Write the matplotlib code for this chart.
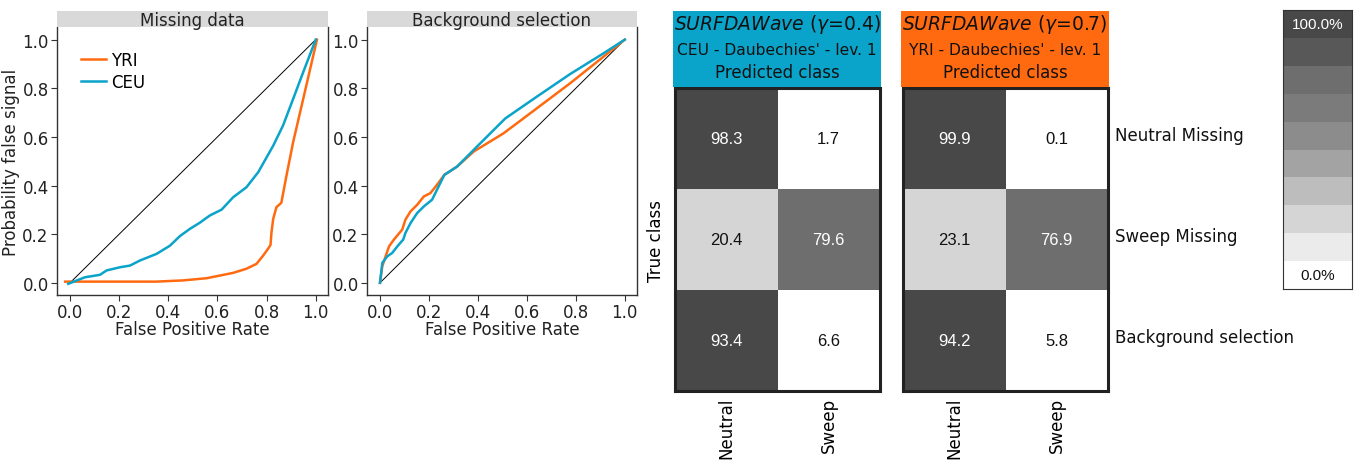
import matplotlib
matplotlib.use("Agg")
import matplotlib.pyplot as plt
from matplotlib.colors import ListedColormap, BoundaryNorm
import numpy as np

# ROC-like curves: missing data
miss_ceu_x = [-0.007, 0.061, 0.122, 0.149, 0.203, 0.244, 0.285, 0.352, 0.407, 0.447, 0.488,
              0.528, 0.569, 0.617, 0.664, 0.718, 0.766, 0.827, 0.867, 0.908, 0.949, 1.0]
miss_ceu_y = [-0.004, 0.023, 0.033, 0.051, 0.064, 0.071, 0.092, 0.119, 0.153, 0.192, 0.222,
              0.247, 0.277, 0.301, 0.352, 0.393, 0.455, 0.564, 0.647, 0.756, 0.866, 1.0]
miss_yri_x = [-0.02, 0.35, 0.46, 0.556, 0.61, 0.664, 0.718, 0.759, 0.786, 0.806, 0.816,
              0.82, 0.827, 0.84, 0.86, 0.881, 0.908, 0.949, 1.005]
miss_yri_y = [0.005, 0.005, 0.01, 0.019, 0.03, 0.041, 0.058, 0.078, 0.112, 0.14, 0.156,
              0.208, 0.263, 0.311, 0.329, 0.441, 0.578, 0.756, 1.0]

# background selection
bg_yri_x = [0.0, 0.0095, 0.023, 0.037, 0.057, 0.091, 0.104, 0.125, 0.152, 0.179, 0.206,
            0.233, 0.263, 0.315, 0.383, 0.505, 0.64, 0.776, 0.912, 1.0]
bg_yri_y = [0.0, 0.068, 0.109, 0.15, 0.178, 0.219, 0.26, 0.294, 0.321, 0.355, 0.369,
            0.403, 0.444, 0.478, 0.54, 0.615, 0.717, 0.82, 0.929, 1.0]
bg_ceu_x = [0.0, 0.0095, 0.03, 0.05, 0.071, 0.095, 0.104, 0.125, 0.152, 0.179, 0.213,
            0.233, 0.263, 0.315, 0.396, 0.512, 0.64, 0.776, 0.912, 1.0]
bg_ceu_y = [0.0, 0.082, 0.109, 0.123, 0.15, 0.178, 0.205, 0.246, 0.287, 0.314, 0.342,
            0.383, 0.444, 0.478, 0.56, 0.676, 0.765, 0.858, 0.943, 1.0]

# confusion matrices (percent)
pred_classes = ["Neutral", "Sweep"]
true_classes = ["Neutral Missing", "Sweep Missing", "Background selection"]
cm_ceu = [[98.3, 1.7], [20.4, 79.6], [93.4, 6.6]]
cm_yri = [[99.9, 0.1], [23.1, 76.9], [94.2, 5.8]]

ORANGE = "#ff6a10"
BLUE = "#0aa3c9"
greys = ["#ffffff", "#ebebeb", "#d5d5d5", "#bdbdbd", "#a3a3a3",
         "#8c8c8c", "#7b7b7b", "#6e6e6e", "#585858", "#484848"]
cmap = ListedColormap(greys)
norm = BoundaryNorm(np.linspace(0, 100, 11), cmap.N)

W, H = 1358, 464
fig = plt.figure(figsize=(W / 100, H / 100), dpi=100)


def px_axes(x0, y0, x1, y1):
    return fig.add_axes([x0 / W, 1 - y1 / H, (x1 - x0) / W, (y1 - y0) / H])


def roc_panel(x0, x1, title, curves, ylabel=None):
    ax = px_axes(x0, 28, x1, 296)
    ax.plot([0, 1], [0, 1], color="black", lw=0.7)
    for xs, ys, col, lab in curves:
        ax.plot(xs, ys, color=col, lw=1.8, label=lab)
    ax.set_xlim(-0.053, 1.05)
    ax.set_ylim(-0.05, 1.052)
    ticks = [0.0, 0.2, 0.4, 0.6, 0.8, 1.0]
    ax.set_xticks(ticks)
    ax.set_yticks(ticks)
    ax.set_xticklabels([f"{t:.1f}" for t in ticks])
    ax.set_yticklabels([f"{t:.1f}" for t in ticks])
    ax.tick_params(labelsize=12, length=4, width=0.8, color="#333333",
                   labelcolor="#222222", pad=2)
    ax.spines["top"].set_visible(False)
    for s in ["left", "bottom", "right"]:
        ax.spines[s].set_color("#333333")
        ax.spines[s].set_linewidth(1.0)
    ax.set_xlabel("False Positive Rate", fontsize=12, color="#222222", labelpad=-1)
    if ylabel:
        ax.set_ylabel(ylabel, fontsize=12, color="#222222", labelpad=2)
    strip = px_axes(x0, 12, x1, 28)
    strip.set_facecolor("#d9d9d9")
    strip.set_xticks([])
    strip.set_yticks([])
    for s in strip.spines.values():
        s.set_visible(False)
    strip.text(0.5, 0.45, title, ha="center", va="center", fontsize=12, color="#222222")
    return ax


ax1 = roc_panel(57, 328, "Missing data",
                [(miss_yri_x, miss_yri_y, ORANGE, "YRI"),
                 (miss_ceu_x, miss_ceu_y, BLUE, "CEU")],
                ylabel="Probability false signal")
ax1.legend(frameon=False, loc="upper left", bbox_to_anchor=(0.09, 0.91),
           borderaxespad=0, borderpad=0, fontsize=12, handlelength=1.5,
           handletextpad=0.3, labelspacing=0.25)

roc_panel(367, 637, "Background selection",
          [(bg_yri_x, bg_yri_y, ORANGE, "YRI"),
           (bg_ceu_x, bg_ceu_y, BLUE, "CEU")])


def conf_panel(x0, x1, cm, head_col, gamma, pop, row_labels=False, ylab=False):
    ax = px_axes(x0, 89, x1, 392)
    vals = np.array(cm)
    ax.pcolormesh(np.arange(3), np.arange(4), vals, cmap=cmap, norm=norm)
    ax.set_xlim(0, 2)
    ax.set_ylim(3, 0)
    for i in range(vals.shape[0]):
        for j in range(vals.shape[1]):
            v = vals[i, j]
            ax.text(j + 0.5, i + 0.5, f"{v:.1f}", ha="center", va="center",
                    fontsize=12, family="Liberation Sans",
                    color="white" if v >= 50 else "#111111")
    ax.set_xticks([0.5, 1.5])
    ax.set_xticklabels(pred_classes, rotation=90, fontsize=12, va="top")
    ax.tick_params(axis="x", length=0, pad=4)
    ax.set_yticks([])
    for s in ax.spines.values():
        s.set_linewidth(2.2)
        s.set_color("#222222")
    if ylab:
        ax.set_ylabel("True class", fontsize=12, labelpad=7)
    if row_labels:
        for i, lab in enumerate(true_classes):
            ax.text(2.07, i + 0.47, lab, ha="left", va="center", fontsize=12,
                    color="#111111")
    head = px_axes(x0 - 2, 12, x1 + 1, 88)
    head.set_facecolor(head_col)
    head.set_xticks([])
    head.set_yticks([])
    for s in head.spines.values():
        s.set_visible(False)
    head.text(0.5, 0.84, r"$\it{SURFDAWave}$ ($\gamma$=" + gamma + ")",
              ha="center", va="center", fontsize=13.5, color="#111111")
    head.text(0.5, 0.5, pop + " - Daubechies' - lev. 1", ha="center", va="center",
              fontsize=11.2, color="#111111")
    head.text(0.5, 0.2, "Predicted class", ha="center", va="center",
              fontsize=12, color="#111111")


conf_panel(675, 880, cm_ceu, BLUE, "0.4", "CEU", ylab=True)
conf_panel(903, 1108, cm_yri, ORANGE, "0.7", "YRI", row_labels=True)

# colour key
key = px_axes(1283, 11, 1352, 290)
levels = np.linspace(5, 95, 10)[::-1].reshape(-1, 1)
key.pcolormesh(np.arange(2), np.arange(11), levels, cmap=cmap, norm=norm)
key.set_xlim(0, 1)
key.set_ylim(10, 0)
key.set_xticks([])
key.set_yticks([])
for s in key.spines.values():
    s.set_linewidth(0.8)
    s.set_color("#333333")
key.text(0.5, 0.5, "100.0%", ha="center", va="center", fontsize=11,
         family="Liberation Sans", color="white")
key.text(0.5, 9.5, "0.0%", ha="center", va="center", fontsize=11,
         family="Liberation Sans", color="#111111")

fig.savefig("out.png", dpi=100)
